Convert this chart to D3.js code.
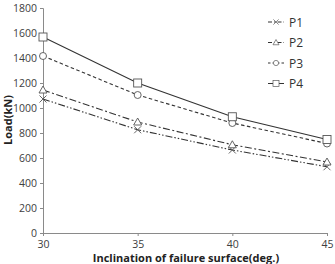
<!DOCTYPE html>
<html>
<head>
<meta charset="utf-8">
<script src="https://cdn.jsdelivr.net/npm/d3@7"></script>
<style>
  html, body { margin: 0; padding: 0; background: #fff; }
  text { font-family: "Open Sans", "Noto Sans", sans-serif; }
</style>
</head>
<body>
<div id="chart"></div>
<script>
// values
const angles = [30, 35, 40, 45]
const p1 = [1072, 826, 664, 530]
const p2 = [1144, 888, 706, 568]
const p3 = [1416, 1104, 880, 716]
const p4 = [1568, 1200, 930, 748]
const yTicks = [0, 200, 400, 600, 800, 1000, 1200, 1400, 1600, 1800]
const seriesNames = ['P1', 'P2', 'P3', 'P4']

const width = 335
const height = 264

const x = d3.scaleLinear().domain([30, 45]).range([43, 327])
const y = d3.scaleLinear().domain([0, 1800]).range([233, 8])

const svg = d3.select('#chart')
  .append('svg')
  .attr('width', width)
  .attr('height', height)

const series = [
  { name: seriesNames[0], vals: p1, dash: '7,2,1.5,2,1.5,2', marker: 'x' },
  { name: seriesNames[1], vals: p2, dash: '7,2.5,2,2.5', marker: 'tri' },
  { name: seriesNames[2], vals: p3, dash: '3.5,2.5', marker: 'circ' },
  { name: seriesNames[3], vals: p4, dash: null, marker: 'sq' }
]

const lineCol = '#333'
const markCol = '#555'

// axes
svg.append('g')
  .attr('transform', 'translate(43,0)')
  .call(d3.axisLeft(y).tickValues(yTicks).tickFormat(d3.format('d')).tickSize(3).tickPadding(3))
svg.append('g')
  .attr('transform', 'translate(0,233)')
  .call(d3.axisBottom(x).tickValues(angles).tickFormat(d3.format('d')).tickSize(3).tickPadding(5))

svg.selectAll('.domain').attr('stroke', '#8a8a8a')
svg.selectAll('.tick line').attr('stroke', '#8a8a8a')
svg.selectAll('.tick text').attr('fill', '#404040').style('font-size', '10.5px')

const line = d3.line().x((d, i) => x(angles[i])).y(d => y(d))

function marker(g, type, cx, cy) {
  if (type === 'x') {
    g.append('path').attr('d', `M${cx-3.5},${cy-3.5}L${cx+3.5},${cy+3.5}M${cx-3.5},${cy+3.5}L${cx+3.5},${cy-3.5}`)
      .attr('stroke', markCol).attr('stroke-width', 0.9).attr('fill', 'none')
  } else if (type === 'tri') {
    g.append('path').attr('d', `M${cx},${cy-4}L${cx+4},${cy+3}L${cx-4},${cy+3}Z`)
      .attr('stroke', markCol).attr('stroke-width', 0.9).attr('fill', '#fff')
  } else if (type === 'circ') {
    g.append('circle').attr('cx', cx).attr('cy', cy).attr('r', 3.5)
      .attr('stroke', markCol).attr('stroke-width', 0.9).attr('fill', '#fff')
  } else {
    g.append('rect').attr('x', cx - 4).attr('y', cy - 4).attr('width', 8).attr('height', 8)
      .attr('stroke', markCol).attr('stroke-width', 0.9).attr('fill', '#fff')
  }
}

series.forEach(s => {
  svg.append('path')
    .datum(s.vals)
    .attr('d', line)
    .attr('fill', 'none')
    .attr('stroke', lineCol)
    .attr('stroke-width', 1.1)
    .attr('stroke-dasharray', s.dash)
  const g = svg.append('g')
  s.vals.forEach((v, i) => marker(g, s.marker, x(angles[i]), y(v)))
})

// legend
series.forEach((s, i) => {
  const ly = 22 + i * 20.5
  const g = svg.append('g')
  g.append('line').attr('x1', 268).attr('x2', 284).attr('y1', ly).attr('y2', ly)
    .attr('stroke', lineCol).attr('stroke-width', 1)
    .attr('stroke-dasharray', s.dash ? (s.marker === 'circ' ? '2.5,2' : '4,2,1.5,2') : null)
  const mg = g.append('g').attr('transform', `translate(276,${ly}) scale(0.75) translate(-276,${-ly})`)
  marker(mg, s.marker, 276, ly)
  g.append('text').attr('x', 289).attr('y', ly + 4.5)
    .style('font-size', '12px').attr('fill', '#333').text(s.name)
})

// axis titles
svg.append('text')
  .attr('transform', 'translate(12,120) rotate(-90)')
  .attr('text-anchor', 'middle')
  .style('font-size', '11px').style('font-weight', 'bold').attr('fill', '#222')
  .text('Load(kN)')

svg.append('text')
  .attr('x', 186).attr('y', 262)
  .attr('text-anchor', 'middle')
  .style('font-size', '11px').style('font-weight', 'bold').attr('fill', '#222')
  .text('Inclination of failure surface(deg.)')
</script>
</body>
</html>
